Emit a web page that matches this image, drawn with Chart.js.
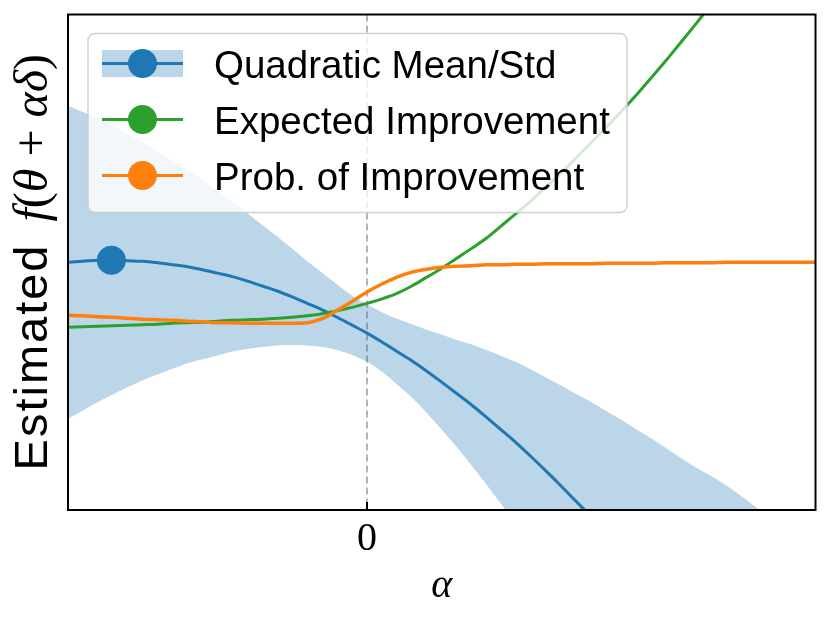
<!DOCTYPE html>
<html>
<head>
<meta charset="utf-8">
<title>Estimated f along alpha</title>
<script src="https://cdn.jsdelivr.net/npm/chart.js@4.4.1/dist/chart.umd.min.js"></script>
<style>
  html, body { margin: 0; padding: 0; background: #fff; }
  #wrap { width: 830px; height: 619px; }
</style>
</head>
<body>
<div id="wrap"><canvas id="chart" width="830" height="619"></canvas></div>
<script>
// Step sizes alpha along the search direction
const alphas = [-2.0, -1.9, -1.8, -1.7, -1.6, -1.5, -1.4, -1.3, -1.2, -1.1,
  -1.0, -0.9, -0.8, -0.7, -0.6, -0.5, -0.4, -0.3, -0.2, -0.1,
  0.0, 0.1, 0.2, 0.3, 0.4, 0.5, 0.6, 0.7, 0.8, 0.9,
  1.0, 1.1, 1.2, 1.3, 1.4, 1.5, 1.6, 1.7, 1.8, 1.9,
  2.0, 2.1, 2.2, 2.3, 2.4, 2.5, 2.6, 2.7, 2.8, 2.9, 3.0];

// Quadratic mean and its +/- std band
const meanVals = [5.00, 5.02, 5.04, 5.04, 5.03, 5.02, 4.99, 4.95, 4.91, 4.85,
  4.78, 4.71, 4.62, 4.52, 4.42, 4.30, 4.17, 4.04, 3.89, 3.73,
  3.57, 3.39, 3.20, 3.01, 2.80, 2.58, 2.35, 2.12, 1.87, 1.61,
  1.35, 1.07, 0.78, 0.48, 0.17, -0.14, -0.47, -0.81, -1.16, -1.51,
  -1.88, -2.26, -2.65, -3.04, -3.45, -3.87, -4.30, -4.74, -5.18, -5.64, -6.11];
const upperVals = [8.16, 8.03, 7.90, 7.75, 7.58, 7.42, 7.24, 7.05, 6.86, 6.66,
  6.44, 6.22, 5.99, 5.75, 5.52, 5.27, 5.02, 4.79, 4.55, 4.33,
  4.15, 3.99, 3.86, 3.75, 3.64, 3.54, 3.43, 3.34, 3.23, 3.11,
  2.98, 2.83, 2.67, 2.51, 2.34, 2.18, 2.00, 1.82, 1.63, 1.45,
  1.25, 1.05, 0.86, 0.69, 0.50, 0.29, 0.06, -0.18, -0.44, -0.71, -1.00];
const lowerVals = [1.84, 2.01, 2.18, 2.33, 2.48, 2.62, 2.74, 2.85, 2.96, 3.04,
  3.12, 3.20, 3.25, 3.29, 3.32, 3.33, 3.32, 3.29, 3.23, 3.13,
  2.99, 2.79, 2.54, 2.27, 1.96, 1.62, 1.27, 0.90, 0.51, 0.11,
  -0.28, -0.69, -1.11, -1.55, -2.00, -2.46, -2.94, -3.44, -3.95, -4.47,
  -5.01, -5.57, -6.16, -6.77, -7.41, -8.04, -8.64, -9.27, -9.90, -10.55, -11.21];

// Acquisition functions (rescaled onto the same axis)
const eiVals = [3.69, 3.70, 3.71, 3.72, 3.73, 3.74, 3.75, 3.77, 3.78, 3.79,
  3.81, 3.83, 3.84, 3.85, 3.87, 3.89, 3.92, 3.96, 4.02, 4.09,
  4.17, 4.26, 4.37, 4.52, 4.70, 4.88, 5.08, 5.28, 5.49, 5.74,
  5.99, 6.25, 6.53, 6.81, 7.11, 7.42, 7.72, 8.04, 8.37, 8.72,
  9.07, 9.44, 9.81, 10.20, 10.59, 10.99, 11.40, 11.82, 12.25, 12.69, 13.14];
const piVals = [3.93, 3.92, 3.90, 3.89, 3.87, 3.85, 3.84, 3.83, 3.81, 3.80,
  3.78, 3.78, 3.77, 3.77, 3.77, 3.77, 3.78, 3.86, 4.03, 4.21,
  4.40, 4.56, 4.70, 4.80, 4.86, 4.90, 4.92, 4.93, 4.95, 4.95,
  4.96, 4.96, 4.97, 4.97, 4.97, 4.97, 4.98, 4.98, 4.98, 4.98,
  4.99, 4.99, 4.99, 4.99, 5.00, 5.00, 5.00, 5.00, 5.00, 5.00, 5.00];

// Maximum of the quadratic mean
const bestAlpha = [-1.71];
const bestMean = [5.04];

const xTicks = [0];
const legendLabels = ['Quadratic Mean/Std', 'Expected Improvement', 'Prob. of Improvement'];

const BLUE = '#1f77b4';
const GREEN = '#2ca02c';
const ORANGE = '#ff7f0e';
const BAND = 'rgba(31, 119, 180, 0.3)';

function toPoints(ys) {
  return alphas.map((a, i) => ({ x: a, y: ys[i] }));
}

const decorPlugin = {
  id: 'decor',
  beforeDatasetsDraw(chart) {
    // dashed reference line at alpha = 0
    const { ctx, chartArea: a, scales: { x } } = chart;
    ctx.save();
    ctx.strokeStyle = '#b3b3b3';
    ctx.lineWidth = 2;
    ctx.setLineDash([7, 4]);
    xTicks.forEach(v => {
      const px = x.getPixelForValue(v);
      ctx.beginPath();
      ctx.moveTo(px, a.top);
      ctx.lineTo(px, a.bottom);
      ctx.stroke();
    });
    ctx.restore();
  },
  afterDatasetsDraw(chart) {
    const { ctx, chartArea: a, scales: { x } } = chart;
    ctx.save();
    // frame
    ctx.strokeStyle = '#000';
    ctx.lineWidth = 2;
    ctx.strokeRect(a.left, a.top, a.right - a.left, a.bottom - a.top);

    // inward ticks + labels
    ctx.fillStyle = '#000';
    ctx.font = '40px "Liberation Serif"';
    ctx.textAlign = 'center';
    ctx.textBaseline = 'alphabetic';
    xTicks.forEach(v => {
      const px = x.getPixelForValue(v);
      ctx.beginPath();
      ctx.moveTo(px, a.bottom);
      ctx.lineTo(px, a.bottom - 8);
      ctx.stroke();
      ctx.fillText(String(v), px, a.bottom + 40);
    });

    // x title
    ctx.font = 'italic 40px "Liberation Serif"';
    ctx.fillText('\u03b1', (a.left + a.right) / 2, a.bottom + 87);

    // y title, plain text followed by the math part
    const parts = [
      { t: 'Estimated', f: '47px "Liberation Sans"', ls: 2, gap: 22 },
      { t: 'f', f: 'italic 48px "Liberation Serif"' },
      { t: '(', f: '48px "Liberation Serif"' },
      { t: '\u03b8', f: 'italic 48px "Liberation Serif"' },
      { t: ' + ', f: '48px "Liberation Serif"' },
      { t: '\u03b1\u03b4', f: 'italic 48px "Liberation Serif"' },
      { t: ')', f: '48px "Liberation Serif"' }
    ];
    let total = 0;
    parts.forEach(p => {
      ctx.font = p.f;
      ctx.letterSpacing = (p.ls || 0) + 'px';
      p.w = ctx.measureText(p.t).width + (p.gap || 0);
      total += p.w;
    });
    ctx.translate(47, (a.top + a.bottom) / 2);
    ctx.rotate(-Math.PI / 2);
    ctx.textAlign = 'left';
    let cx = -total / 2;
    parts.forEach(p => {
      ctx.font = p.f;
      ctx.letterSpacing = (p.ls || 0) + 'px';
      ctx.fillText(p.t, cx, 0);
      cx += p.w;
    });
    ctx.letterSpacing = '0px';
    ctx.restore();
  },
  afterDraw(chart) {
    const { ctx, chartArea: a } = chart;
    const bx = a.left + 20, by = a.top + 19, bw = 539, bh = 179;
    const colors = [BLUE, GREEN, ORANGE];
    ctx.save();
    ctx.beginPath();
    ctx.roundRect(bx, by, bw, bh, 7);
    ctx.fillStyle = 'rgba(255, 255, 255, 0.8)';
    ctx.fill();
    ctx.strokeStyle = 'rgba(204, 204, 204, 0.9)';
    ctx.lineWidth = 1.5;
    ctx.stroke();

    legendLabels.forEach((label, i) => {
      const ry = by + 30 + i * 56;
      const hx = bx + 14, hw = 81;
      if (i === 0) {
        ctx.fillStyle = BAND;
        ctx.fillRect(hx, ry - 13.5, hw, 27);
      }
      ctx.strokeStyle = colors[i];
      ctx.lineWidth = 3;
      ctx.beginPath();
      ctx.moveTo(hx, ry);
      ctx.lineTo(hx + hw, ry);
      ctx.stroke();
      ctx.fillStyle = colors[i];
      ctx.beginPath();
      ctx.arc(hx + hw / 2, ry, 14.5, 0, Math.PI * 2);
      ctx.fill();

      ctx.fillStyle = '#000';
      ctx.font = '38.5px "Liberation Sans"';
      ctx.textAlign = 'left';
      ctx.textBaseline = 'alphabetic';
      ctx.fillText(label, bx + 126, ry + 14.5);
    });
    ctx.restore();
  }
};

const ctx = document.getElementById('chart').getContext('2d');
const chart = new Chart(ctx, {
  type: 'line',
  data: {
    datasets: [
      {
        label: 'Best',
        data: bestAlpha.map((a, i) => ({ x: a, y: bestMean[i] })),
        showLine: false,
        pointRadius: 14.5,
        pointBackgroundColor: BLUE,
        pointBorderWidth: 0
      },
      {
        label: legendLabels[2],
        data: toPoints(piVals),
        borderColor: ORANGE,
        borderWidth: 3.5,
        cubicInterpolationMode: 'monotone',
        pointRadius: 0,
        fill: false
      },
      {
        label: legendLabels[1],
        data: toPoints(eiVals),
        borderColor: GREEN,
        borderWidth: 3,
        cubicInterpolationMode: 'monotone',
        pointRadius: 0,
        fill: false
      },
      {
        label: legendLabels[0],
        data: toPoints(meanVals),
        borderColor: BLUE,
        borderWidth: 3,
        cubicInterpolationMode: 'monotone',
        pointRadius: 0,
        fill: false
      },
      {
        label: 'Upper',
        data: toPoints(upperVals),
        borderColor: 'rgba(0,0,0,0)',
        borderWidth: 1,
        backgroundColor: BAND,
        cubicInterpolationMode: 'monotone',
        pointRadius: 0,
        fill: '+1'
      },
      {
        label: 'Lower',
        data: toPoints(lowerVals),
        borderColor: 'rgba(0,0,0,0)',
        borderWidth: 1,
        cubicInterpolationMode: 'monotone',
        pointRadius: 0,
        fill: false
      }
    ]
  },
  options: {
    responsive: false,
    animation: false,
    layout: { padding: { left: 68, top: 14, right: 14, bottom: 109 } },
    scales: {
      x: { type: 'linear', min: -2, max: 3, display: false },
      y: { type: 'linear', min: 0, max: 10, display: false }
    },
    plugins: {
      legend: { display: false },
      tooltip: { enabled: false }
    }
  },
  plugins: [decorPlugin]
});
</script>
</body>
</html>
